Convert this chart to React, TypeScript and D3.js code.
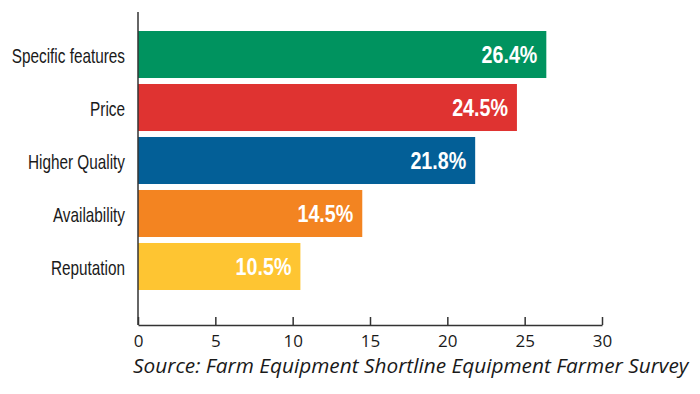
import React, { useEffect, useRef } from "react";
import * as d3 from "d3";

const categories = ["Specific features", "Price", "Higher Quality", "Availability", "Reputation"];
const values = [26.4, 24.5, 21.8, 14.5, 10.5];
const colors = ["#00935F", "#DF3331", "#035F97", "#F38421", "#FEC532"];
const xTicks = [0, 5, 10, 15, 20, 25, 30];
const source = "Source: Farm Equipment Shortline Equipment Farmer Survey";

const App = () => {
  const svgRef = useRef<SVGSVGElement>(null);

  useEffect(() => {
    document.body.style.margin = "0";
    const svg = d3.select(svgRef.current);
    svg.selectAll("*").remove();

    const x = d3.scaleLinear().domain([0, 30]).range([138, 602]);
    const y = d3
      .scaleBand()
      .domain(categories)
      .range([31, 290])
      .paddingInner(0.113)
      .paddingOuter(0);

    // bars
    svg
      .append("g")
      .selectAll("rect")
      .data(values)
      .enter()
      .append("rect")
      .attr("x", x(0))
      .attr("y", (d, i) => y(categories[i])!)
      .attr("width", (d) => x(d) - x(0))
      .attr("height", y.bandwidth())
      .attr("fill", (d, i) => colors[i]);

    // value labels (condensed by horizontal squeeze)
    svg
      .append("g")
      .selectAll("text")
      .data(values)
      .enter()
      .append("text")
      .attr("transform", (d, i) =>
        `translate(${x(d) - 9},${y(categories[i])! + y.bandwidth() / 2 + 8.5}) scale(0.82,1)`
      )
      .attr("text-anchor", "end")
      .attr("fill", "#fff")
      .style("font-family", "'Liberation Sans', Arial, sans-serif")
      .style("font-weight", "bold")
      .style("font-size", "24px")
      .text((d) => d.toFixed(1) + "%");

    // category labels
    svg
      .append("g")
      .selectAll("text")
      .data(categories)
      .enter()
      .append("text")
      .attr("transform", (d) => `translate(125,${y(d)! + y.bandwidth() / 2 + 8.5}) scale(0.73,1)`)
      .attr("text-anchor", "end")
      .attr("fill", "#1a1a1a")
      .style("font-family", "'Liberation Sans', Arial, sans-serif")
      .style("font-size", "21px")
      .text((d) => d);

    // y axis line
    svg
      .append("line")
      .attr("x1", x(0))
      .attr("x2", x(0))
      .attr("y1", 12)
      .attr("y2", 325)
      .attr("stroke", "#333")
      .attr("stroke-width", 1.5);

    // x axis
    const xAxis = svg
      .append("g")
      .attr("transform", "translate(0,325)")
      .call(d3.axisBottom(x).tickValues(xTicks).tickSizeInner(-8).tickSizeOuter(0).tickPadding(10));
    xAxis.select(".domain").attr("stroke", "#333").attr("stroke-width", 1.5);
    xAxis.selectAll(".tick line").attr("stroke", "#333").attr("stroke-width", 1.5);
    xAxis
      .selectAll(".tick text")
      .attr("fill", "#1a1a1a")
      .style("font-family", "'Open Sans', sans-serif")
      .style("font-size", "17px");

    // source
    svg
      .append("text")
      .attr("x", 133)
      .attr("y", 373)
      .attr("fill", "#1a1a1a")
      .style("font-family", "'Open Sans', sans-serif")
      .style("font-style", "italic")
      .style("font-size", "20.8px")
      .text(source);
  }, []);

  return <svg width={700} height={394} ref={svgRef}></svg>;
};

export default App;
